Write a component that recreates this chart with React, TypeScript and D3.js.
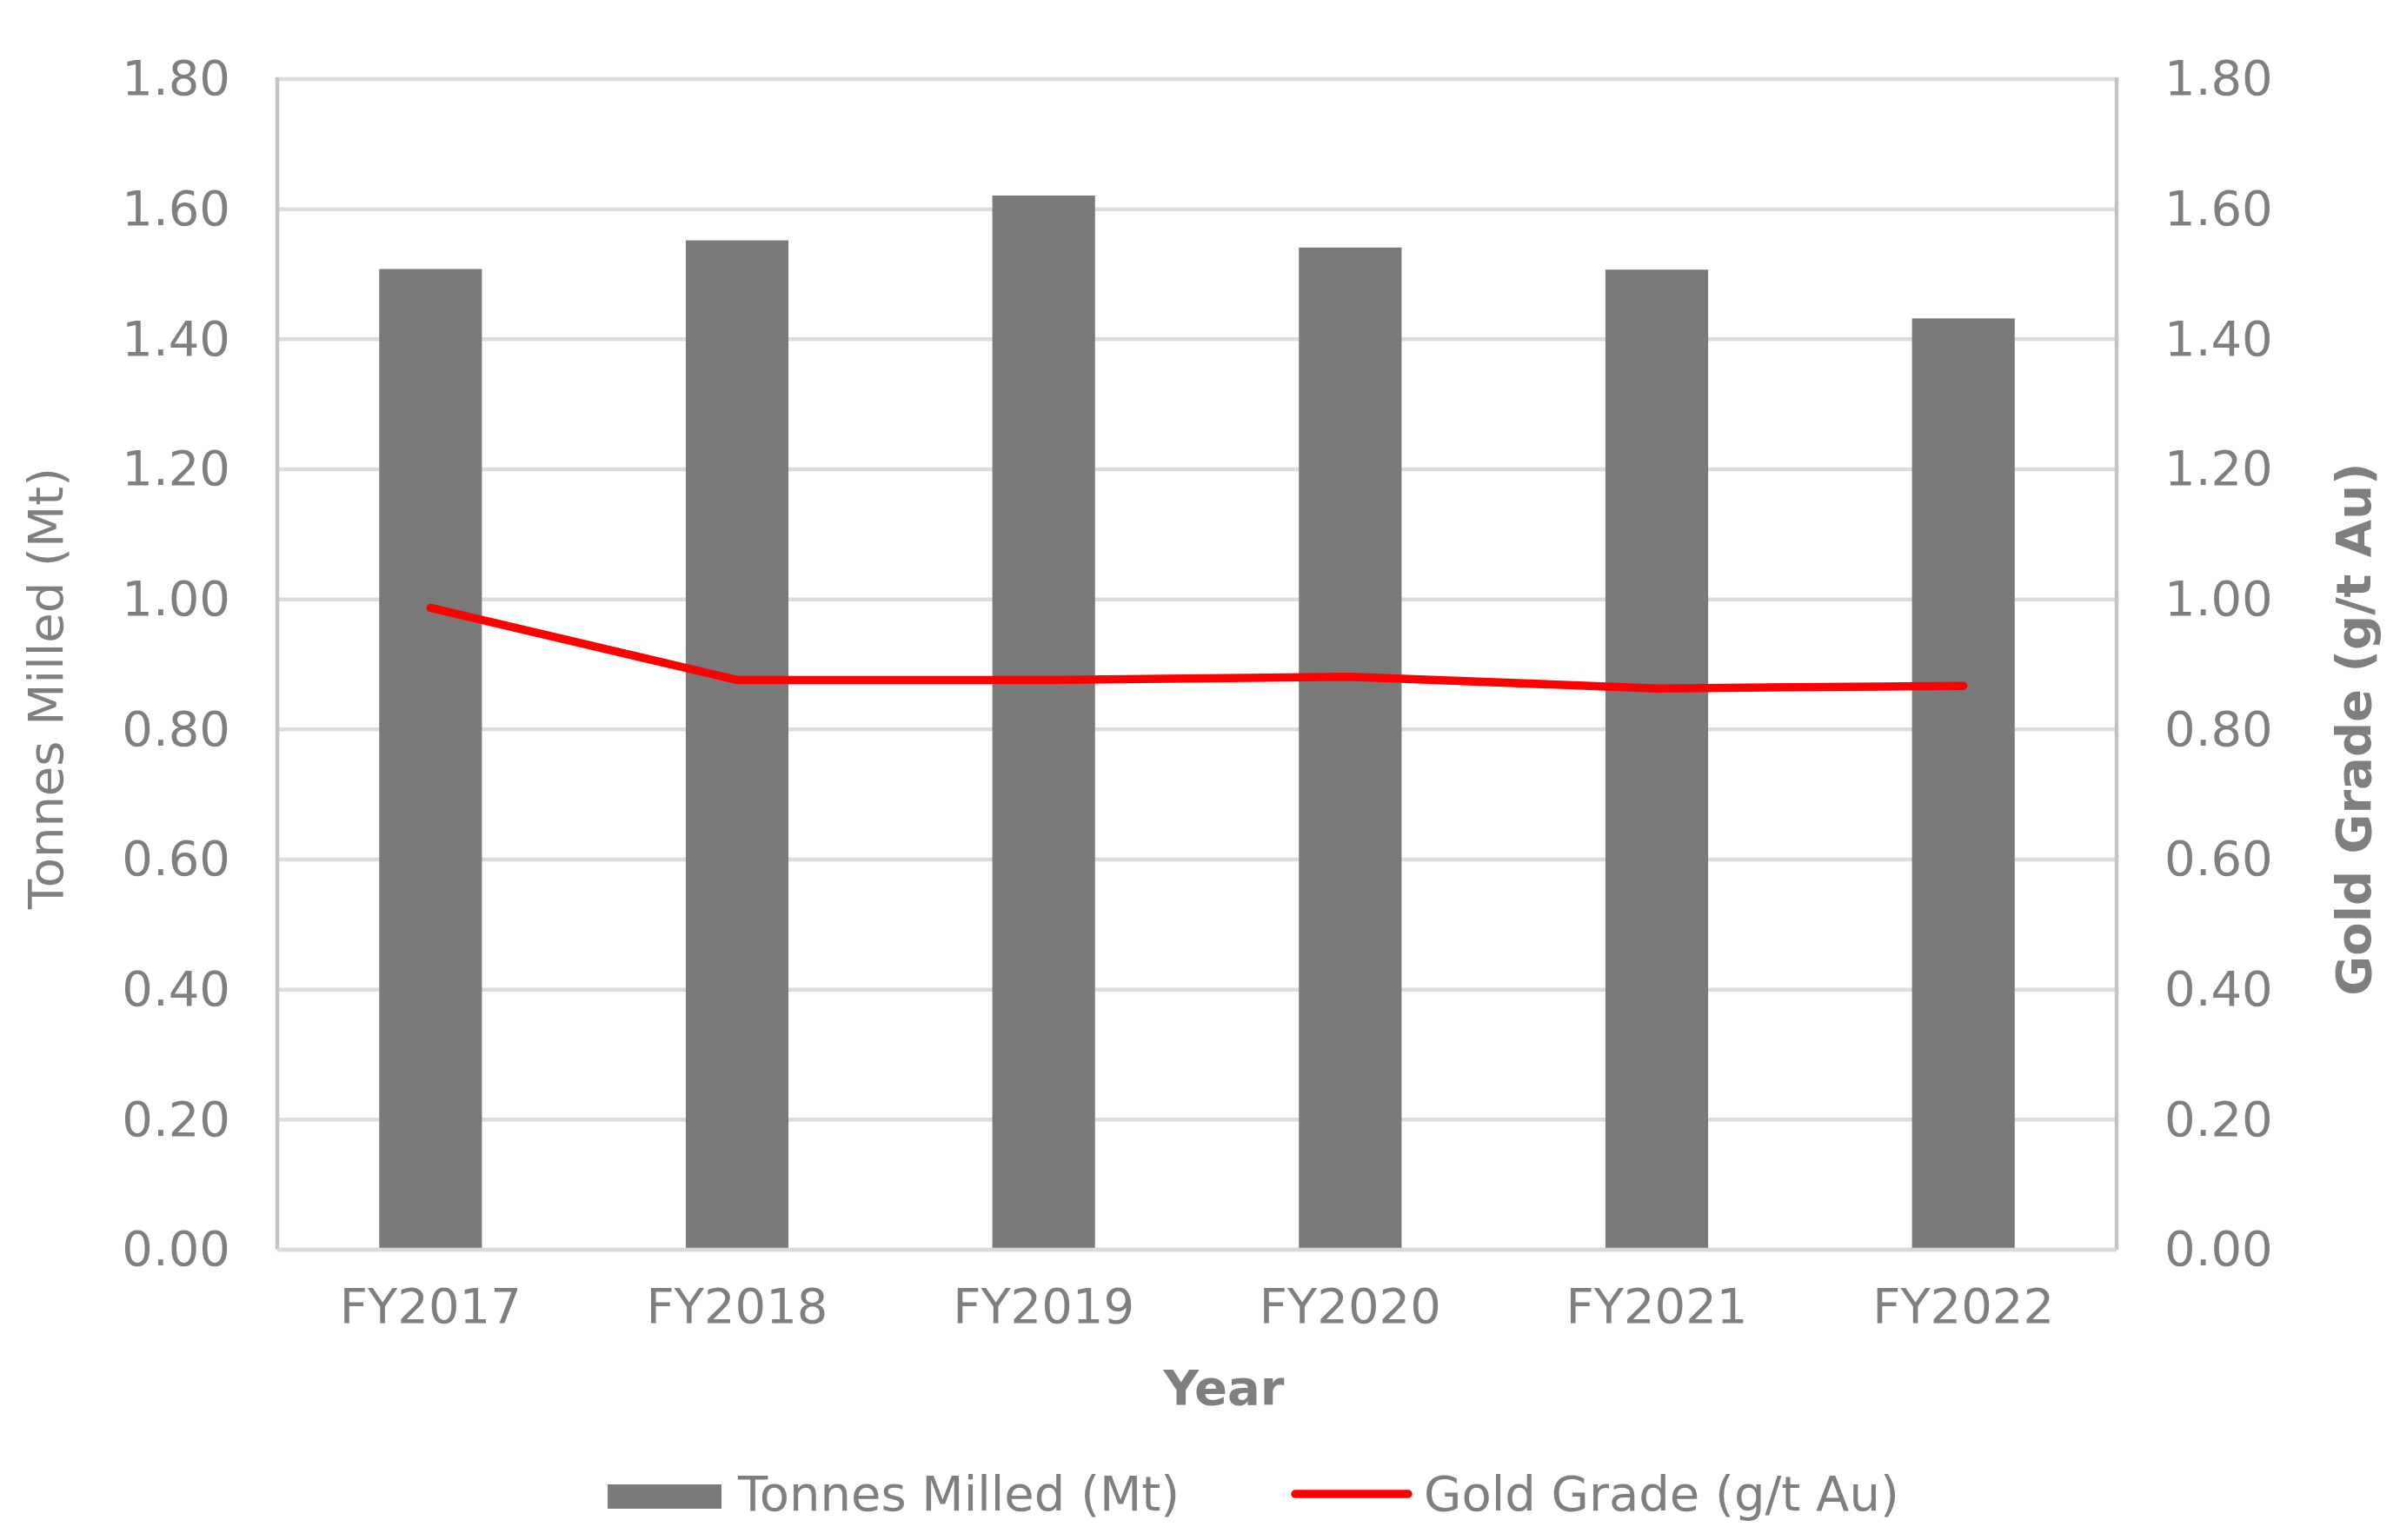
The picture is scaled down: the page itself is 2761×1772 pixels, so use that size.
import React, { useRef, useEffect } from "react"
import * as d3 from "d3"

const years = ["FY2017", "FY2018", "FY2019", "FY2020", "FY2021", "FY2022"]
const tonnesMilled = [1.508, 1.552, 1.621, 1.541, 1.507, 1.432]
const goldGrade = [0.987, 0.876, 0.876, 0.881, 0.863, 0.867]
const yTicks = [0, 0.2, 0.4, 0.6, 0.8, 1.0, 1.2, 1.4, 1.6, 1.8]

const W = 2761
const H = 1772
const FONT = "'DejaVu Sans', sans-serif"
const TEXT = "#7f7f7f"

const App = () => {
    const element = useRef<SVGSVGElement>(null)

    useEffect(() => {
        const margin = { top: 91, right: 326, bottom: 334, left: 319 }
        const width = W - margin.left - margin.right
        const height = H - margin.top - margin.bottom

        const svg = d3.select(element.current)
        svg.selectAll("*").remove()

        const g = svg.append("g")
            .attr("transform", "translate(" + margin.left + "," + margin.top + ")")

        const x = d3.scaleBand()
            .domain(years)
            .range([0, width])
            .paddingInner(0.665)
            .paddingOuter(0.3325)

        const yLeft = d3.scaleLinear().domain([0, 1.8]).range([height, 0])
        const yRight = d3.scaleLinear().domain([0, 1.8]).range([height, 0])

        // gridlines
        g.append("g")
            .selectAll("line")
            .data(yTicks)
            .enter()
            .append("line")
            .attr("x1", 0)
            .attr("x2", width)
            .attr("y1", d => yLeft(d))
            .attr("y2", d => yLeft(d))
            .attr("stroke", "#dcdcdc")
            .attr("stroke-width", 4.5)

        // side axis lines
        g.append("line")
            .attr("x1", 0).attr("x2", 0)
            .attr("y1", -2).attr("y2", height)
            .attr("stroke", "#c4c4c4")
            .attr("stroke-width", 4.5)
        g.append("line")
            .attr("x1", width).attr("x2", width)
            .attr("y1", -2).attr("y2", height)
            .attr("stroke", "#c4c4c4")
            .attr("stroke-width", 4.5)

        // bars
        g.append("g")
            .selectAll("rect")
            .data(tonnesMilled)
            .enter()
            .append("rect")
            .attr("x", (d, i) => x(years[i]) as number)
            .attr("y", d => yLeft(d))
            .attr("width", x.bandwidth())
            .attr("height", d => height - yLeft(d) - 2)
            .attr("fill", "#7a7a7a")

        // bottom axis line
        g.append("line")
            .attr("x1", 0).attr("x2", width)
            .attr("y1", height).attr("y2", height)
            .attr("stroke", "#d9d9d9")
            .attr("stroke-width", 4.5)

        // gold grade line
        const line = d3.line<number>()
            .x((d, i) => (x(years[i]) as number) + x.bandwidth() / 2)
            .y(d => yRight(d))

        g.append("path")
            .datum(goldGrade)
            .attr("d", line)
            .attr("fill", "none")
            .attr("stroke", "#ff0000")
            .attr("stroke-width", 9.5)
            .attr("stroke-linecap", "round")
            .attr("stroke-linejoin", "round")

        // left axis
        const leftAxis = g.append("g")
            .attr("transform", "translate(-51,0)")
            .call(d3.axisLeft(yLeft).tickValues(yTicks).tickFormat(d3.format(".2f")).tickSize(0))
        leftAxis.select(".domain").remove()
        leftAxis.selectAll("text")
            .attr("font-family", FONT)
            .attr("font-size", 56)
            .attr("fill", TEXT)

        // right axis
        const rightAxis = g.append("g")
            .attr("transform", "translate(" + (width + 52) + ",0)")
            .call(d3.axisRight(yRight).tickValues(yTicks).tickFormat(d3.format(".2f")).tickSize(0))
        rightAxis.select(".domain").remove()
        rightAxis.selectAll("text")
            .attr("font-family", FONT)
            .attr("font-size", 56)
            .attr("fill", TEXT)

        // bottom axis
        const bottomAxis = g.append("g")
            .attr("transform", "translate(0," + height + ")")
            .call(d3.axisBottom(x).tickSize(0).tickPadding(44))
        bottomAxis.select(".domain").remove()
        bottomAxis.selectAll("text")
            .attr("font-family", FONT)
            .attr("font-size", 56)
            .attr("fill", TEXT)

        // titles
        svg.append("text")
            .attr("x", 1408)
            .attr("y", 1616)
            .attr("text-anchor", "middle")
            .attr("font-family", FONT)
            .attr("font-size", 56)
            .attr("font-weight", "bold")
            .attr("fill", TEXT)
            .text("Year")

        svg.append("text")
            .attr("transform", "translate(72,792) rotate(-90)")
            .attr("text-anchor", "middle")
            .attr("font-family", FONT)
            .attr("font-size", 56)
            .attr("fill", TEXT)
            .text("Tonnes Milled (Mt)")

        svg.append("text")
            .attr("transform", "translate(2727,839) rotate(-90)")
            .attr("text-anchor", "middle")
            .attr("font-family", FONT)
            .attr("font-size", 56)
            .attr("font-weight", "bold")
            .attr("fill", TEXT)
            .text("Gold Grade (g/t Au)")

        // legend
        const legend = svg.append("g")
        legend.append("rect")
            .attr("x", 699).attr("y", 1708)
            .attr("width", 131).attr("height", 28)
            .attr("fill", "#7a7a7a")
        legend.append("text")
            .attr("x", 849).attr("y", 1738)
            .attr("font-family", FONT)
            .attr("font-size", 56)
            .attr("fill", TEXT)
            .text("Tonnes Milled (Mt)")
        legend.append("line")
            .attr("x1", 1490).attr("x2", 1620)
            .attr("y1", 1719).attr("y2", 1719)
            .attr("stroke", "#ff0000")
            .attr("stroke-width", 9.5)
            .attr("stroke-linecap", "round")
        legend.append("text")
            .attr("x", 1638).attr("y", 1738)
            .attr("font-family", FONT)
            .attr("font-size", 56)
            .attr("fill", TEXT)
            .text("Gold Grade (g/t Au)")
    }, [])

    return (
        <svg
            ref={element}
            width={W}
            height={H}
            style={{ position: "absolute", left: 0, top: 0, background: "#fff" }}
        />
    )
}

export default App
